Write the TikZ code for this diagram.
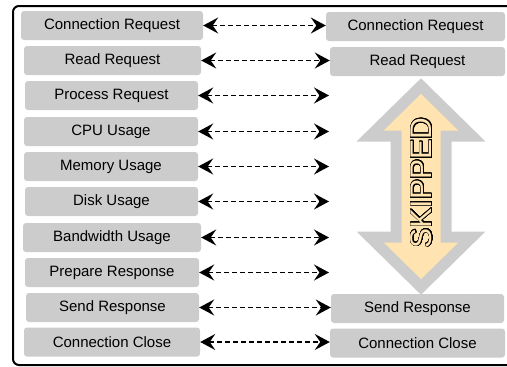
\documentclass[tikz,border=0pt]{standalone}
\usepackage{fontspec}
\setmainfont{Liberation Sans}
\usepackage{contour}
\usetikzlibrary{arrows.meta}

\definecolor{boxgray}{RGB}{204,204,204}
\definecolor{skipfill}{RGB}{255,227,176}

\tikzset{
  stepbox/.style={fill=boxgray, rounded corners=3pt, minimum width=176pt,
    minimum height=29pt, inner sep=0pt, font=\fontsize{15}{18}\selectfont},
  link/.style={dashed, dash pattern=on 4.5pt off 3.5pt, line width=1.6pt,
    >={Stealth[length=15pt,width=16pt,inset=5.5pt]}, <->}
}
\contourlength{0.8pt}
\contournumber{32}

\begin{document}
\begin{tikzpicture}[x=1pt,y=-1pt]
   \useasboundingbox (0,0) rectangle (507,367);
   \draw[line width=2pt, rounded corners=6pt] (13,6) rectangle (530,365);

   % client side
   \node[stepbox, minimum width=182pt] (l1) at (112,25.5) {Connection Request};
   \node[stepbox, minimum width=177pt] (l2) at (112.5,60.5) {Read Request};
   \node[stepbox, minimum width=173pt] (l3) at (111.5,95.5) {Process Request};
   \node[stepbox, minimum width=174pt] (l4) at (111,131.5) {CPU Usage};
   \node[stepbox, minimum width=174pt] (l5) at (111,166.5) {Memory Usage};
   \node[stepbox, minimum width=173pt] (l6) at (111.5,201.5) {Disk Usage};
   \node[stepbox, minimum width=178pt] (l7) at (112,237.5) {Bandwidth Usage};
   \node[stepbox, minimum width=174pt] (l8) at (112,272.5) {Prepare Response};
   \node[stepbox, minimum width=173pt] (l9) at (112.5,307.5) {Send Response};
   \node[stepbox, minimum width=176pt] (l10) at (112,342) {Connection Close};

   % server side
   \node[stepbox, minimum width=179pt] (r1) at (415.5,26.5) {Connection Request};
   \node[stepbox, minimum width=175pt] (r2) at (417.5,61.5) {Read Request};
   \node[stepbox, minimum width=173pt] (r9) at (417.5,308.5) {Send Response};
   \node[stepbox, minimum width=175pt] (r10) at (417.5,343) {Connection Close};
   \coordinate (r3) at (329,95.5);
   \coordinate (r4) at (329,131.5);
   \coordinate (r5) at (329,166.5);
   \coordinate (r6) at (329,201.5);
   \coordinate (r7) at (329,237.5);
   \coordinate (r8) at (329,272.5);

   \draw[link] (l1.east) -- (r1.west |- l1.east);
   \draw[link] (l2.east) -- (r2.west |- l2.east);
   \draw[link] (l3.east) -- (r3);
   \draw[link] (l4.east) -- (r4);
   \draw[link] (l5.east) -- (r5);
   \draw[link] (l6.east) -- (r6);
   \draw[link] (l7.east) -- (r7);
   \draw[link] (l8.east) -- (r8);
   \draw[link] (l9.east) -- (r9.west |- l9.east);
   \draw[link] (l10.east) -- (r10.west |- l10.east);

   % skipped arrow
   \draw[fill=skipfill, draw=boxgray, line width=11pt, miter limit=10]
     (421,86) -- (472,136) -- (446,136) -- (446,237) -- (472,237) -- (421,287)
     -- (370,237) -- (396,237) -- (396,136) -- (370,136) -- cycle;
   \node[rotate=90, inner sep=0pt, font=\fontsize{30}{30}\selectfont] (skip) at (422,183)
     {\contour{black}{\textcolor{skipfill}{SKIPPED}}};
\end{tikzpicture}
\end{document}
